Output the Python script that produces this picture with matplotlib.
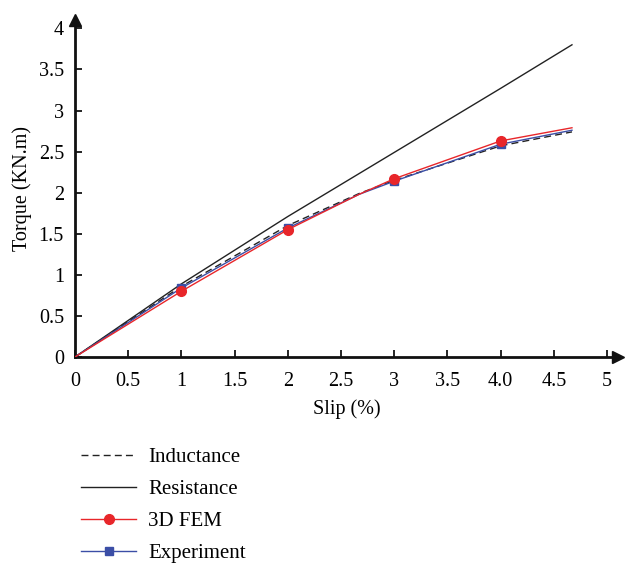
import matplotlib.pyplot as plt

plt.rcParams['font.family'] = ['Liberation Serif', 'DejaVu Serif']
FS = 14.5

slip = [0, 1, 2, 2.67, 3, 4, 4.67]
inductance = [0, 0.86, 1.60, 1.99, 2.15, 2.57, 2.74]
fem = [0, 0.80, 1.55, 1.98, 2.17, 2.63, 2.79]
experiment = [0, 0.84, 1.57, 1.98, 2.14, 2.59, 2.76]
marker_idx = [1, 2, 4, 5]

slip_r = [0, 1, 2, 3, 4, 4.67]
resistance = [0, 0.89, 1.71, 2.49, 3.27, 3.80]

xticks = [0, 0.5, 1, 1.5, 2, 2.5, 3, 3.5, 4, 4.5, 5]
xticklabels = ['0', '0.5', '1', '1.5', '2', '2.5', '3', '3.5', '4.0', '4.5', '5']
yticks = [0, 0.5, 1, 1.5, 2, 2.5, 3, 3.5, 4]
yticklabels = ['0', '0.5', '1', '1.5', '2', '2.5', '3', '3.5', '4']

fig = plt.figure(figsize=(6.26, 5.69), dpi=100)
ax = fig.add_axes([0.1198, 0.3726, 0.867, 0.592])

ax.plot(slip, inductance, color='#222222', lw=1.0, ls=(0, (5, 3)), label='Inductance')
ax.plot(slip_r, resistance, color='#222222', lw=1.0, label='Resistance')
ax.plot(slip, experiment, color='#3b4ea6', lw=1.0, marker='s', markersize=6,
        markevery=marker_idx, label='Experiment', zorder=3)
ax.plot(slip, fem, color='#e8262a', lw=1.0, marker='o', markersize=7,
        markevery=marker_idx, label='3D FEM', zorder=4)

ax.set_xlim(0, 5.10)
ax.set_ylim(0, 4.10)
ax.set_xticks(xticks)
ax.set_xticklabels(xticklabels)
ax.set_yticks(yticks)
ax.set_yticklabels(yticklabels)
ax.tick_params(direction='in', length=5, width=1.2, labelsize=FS)
ax.tick_params(axis='x', pad=11)
ax.tick_params(axis='y', pad=8)

for s in ['top', 'right']:
    ax.spines[s].set_visible(False)
for s in ['left', 'bottom']:
    ax.spines[s].set_linewidth(2)
    ax.spines[s].set_color('#111111')

# axis arrows
ax.plot(1, 0, '>', color='#111111', markersize=9, transform=ax.get_yaxis_transform(), clip_on=False)
ax.plot(0, 1, '^', color='#111111', markersize=9, transform=ax.get_xaxis_transform(), clip_on=False)

ax.set_xlabel('Slip (%)', fontsize=FS, labelpad=6)
ax.set_ylabel('Torque (KN.m)', fontsize=FS, labelpad=5)

handles, labels = ax.get_legend_handles_labels()
order = [0, 1, 3, 2]
fig.legend([handles[i] for i in order], [labels[i] for i in order],
           loc='upper left', bbox_to_anchor=(0.1165, 0.228), frameon=False,
           fontsize=15, handlelength=2.65, handletextpad=0.55, labelspacing=0.6,
           borderaxespad=0)

fig.savefig('out.png', dpi=100)
